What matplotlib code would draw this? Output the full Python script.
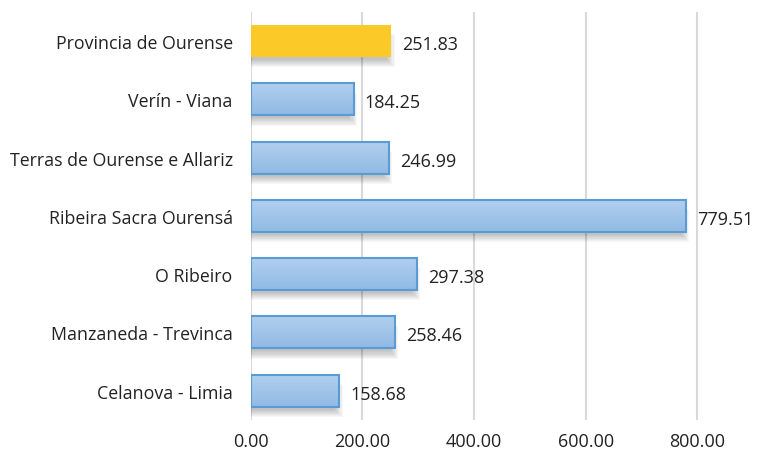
import numpy as np
import matplotlib.pyplot as plt
from matplotlib.patches import Rectangle

categories = ["Celanova - Limia", "Manzaneda - Trevinca", "O Ribeiro",
              "Ribeira Sacra Ourensá", "Terras de Ourense e Allariz",
              "Verín - Viana", "Provincia de Ourense"]
values = [158.68, 258.46, 297.38, 779.51, 246.99, 184.25, 251.83]
xticks = [0, 200, 400, 600, 800]

plt.rcParams["font.family"] = ["Open Sans", "DejaVu Sans"]
fig = plt.figure(figsize=(7.6, 4.6), dpi=100)
ax = fig.add_axes([0.33, 0.085, 0.661, 0.887])

h = 0.55
ys = np.arange(len(categories))
grad = np.linspace(0, 1, 50).reshape(-1, 1)
blues = plt.matplotlib.colors.LinearSegmentedColormap.from_list("b", ["#90bae4", "#b2d0ee"])

for y, v, name in zip(ys, values, categories):
    # soft shadow under the bar
    for k in range(8):
        ax.add_patch(Rectangle((0, y - h / 2 - 0.05 - k * 0.018), v - 8 + k * 2, h,
                               facecolor="#000000", alpha=0.03, edgecolor="none", zorder=2))
    if name == "Provincia de Ourense":
        ax.barh(y, v, height=h, color="#fcca28", edgecolor="none", zorder=3)
    else:
        bar = ax.barh(y, v, height=h, color="none", edgecolor="#5b9bd5", linewidth=1.5, zorder=4)[0]
        im = ax.imshow(grad, extent=(0, v, y - h / 2, y + h / 2), cmap=blues,
                       aspect="auto", origin="lower", zorder=3)
        im.set_clip_path(bar)
    ax.text(v + 20, y - 0.05, f"{v:.2f}", va="center", ha="left", fontsize=13, color="#222222")

ax.set_xlim(0, 900)
ax.set_ylim(-0.5, len(categories) - 0.5)
ax.set_xticks(xticks)
ax.set_xticklabels([f"{t:.2f}" for t in xticks], fontsize=13, color="#222222")
ax.set_yticks(ys)
ax.set_yticklabels(categories, fontsize=12.8, color="#222222")
ax.tick_params(length=0)
ax.tick_params(axis="y", pad=13)
ax.tick_params(axis="x", pad=9)
ax.grid(axis="x", color="#d9d9d9", linewidth=1.5, zorder=0)
ax.set_axisbelow(True)
for s in ax.spines.values():
    s.set_visible(False)

fig.savefig("out.png", dpi=100)
